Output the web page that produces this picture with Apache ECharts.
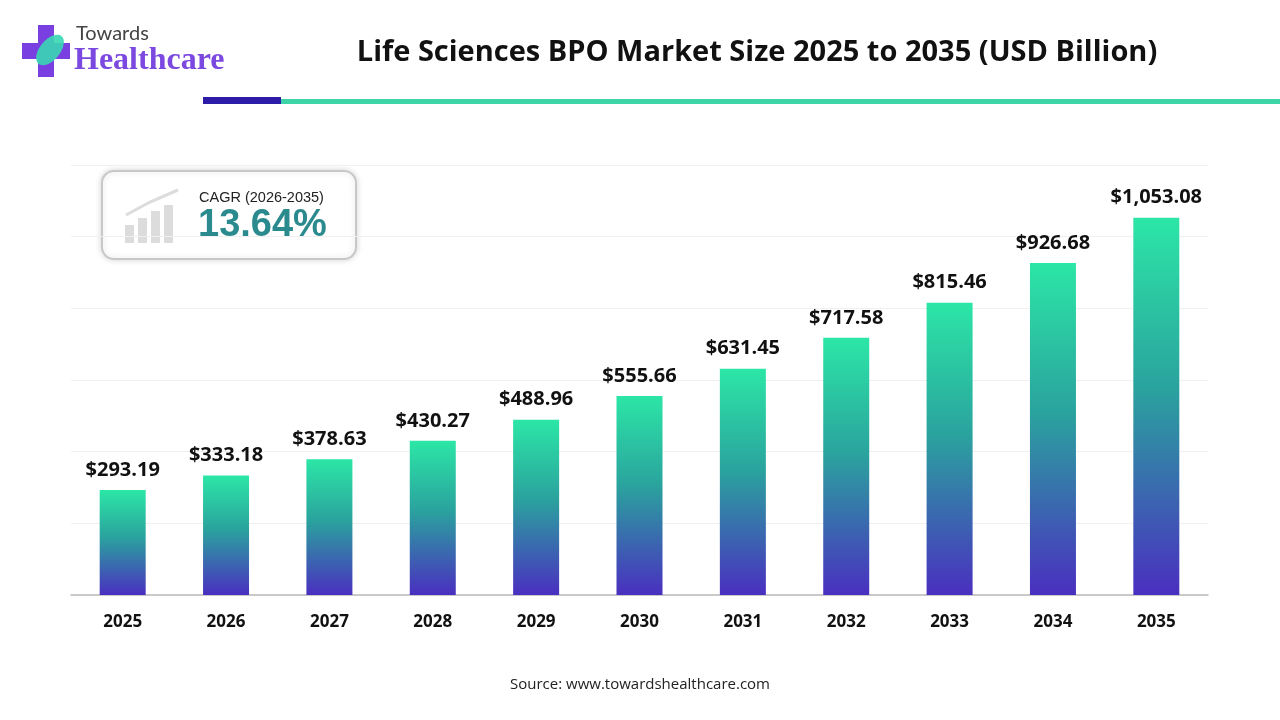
<!DOCTYPE html>
<html>
<head>
<meta charset="utf-8">
<script src="https://cdn.jsdelivr.net/npm/echarts@6/dist/echarts.min.js"></script>
<style>html,body{margin:0;padding:0;background:#fff}#main{width:1280px;height:720px}</style>
</head>
<body>
<div id="main"></div>
<script>
var years = ['2025','2026','2027','2028','2029','2030','2031','2032','2033','2034','2035'];
var values = [293.19,333.18,378.63,430.27,488.96,555.66,631.45,717.58,815.46,926.68,1053.08];

var chart = echarts.init(document.getElementById('main'));

function money(v) {
  return '$' + v.toLocaleString('en-US', {minimumFractionDigits: 2, maximumFractionDigits: 2});
}

var option = {
  backgroundColor: '#fff',
  animation: false,
  title: {
    text: 'Life Sciences BPO Market Size 2025 to 2035 (USD Billion)',
    left: 752, top: 33, textAlign: 'center',
    textStyle: {fontFamily: 'Open Sans', fontWeight: 'bold', fontSize: 29, color: '#111'}
  },
  grid: {left: 71, right: 72, top: 165, bottom: 125},
  xAxis: {
    type: 'category',
    data: years,
    axisTick: {show: false},
    axisLine: {lineStyle: {color: '#bbb', width: 1.5}},
    axisLabel: {color: '#111', fontWeight: 'bold', fontSize: 17, fontFamily: 'Open Sans', margin: 19}
  },
  yAxis: {
    type: 'value', min: 0, max: 1200, interval: 200,
    axisLabel: {show: false},
    splitLine: {lineStyle: {color: '#f0f0f0'}}
  },
  series: [{
    type: 'bar',
    data: values,
    barWidth: 46,
    itemStyle: {
      color: new echarts.graphic.LinearGradient(0, 0, 0, 1, [
        {offset: 0, color: '#2ce6a6'},
        {offset: 0.45, color: '#2aa39e'},
        {offset: 1, color: '#4a2fc0'}
      ])
    },
    label: {
      show: true, position: 'top', distance: 10,
      formatter: function (p) { return money(p.value); },
      color: '#111', fontWeight: 'bold', fontSize: 20, fontFamily: 'Open Sans'
    }
  }],
  graphic: [
    {type: 'rect', shape: {x: 203, y: 97, width: 78, height: 7}, style: {fill: '#2d1ca8'}},
    {type: 'rect', shape: {x: 281, y: 99, width: 999, height: 5}, style: {fill: '#3fd3a8'}},
    // logo
    {type: 'rect', shape: {x: 38, y: 25, width: 16, height: 52}, style: {fill: '#7a3fe0'}},
    {type: 'rect', shape: {x: 22, y: 43, width: 48, height: 16}, style: {fill: '#7a3fe0'}},
    {type: 'ellipse', shape: {cx: 50, cy: 50, rx: 10, ry: 18}, rotation: -0.7, originX: 50, originY: 50, style: {fill: '#38d6b4', opacity: 0.9}},
    {type: 'text', left: 76, top: 24, style: {text: 'Towards', fontSize: 20, fontFamily: 'Lato', fill: '#444'}},
    {type: 'text', left: 74, top: 45, style: {text: 'Healthcare', fontSize: 32, fontWeight: 'bold', fontFamily: 'Liberation Serif', fill: '#7b49e0'}},
    // CAGR box
    {type: 'rect', shape: {x: 102, y: 171, width: 254, height: 88, r: 12},
      style: {fill: '#fff', stroke: '#c8c8c8', lineWidth: 2, shadowBlur: 6, shadowColor: 'rgba(0,0,0,0.15)'}},
    {type: 'rect', shape: {x: 125, y: 225, width: 9, height: 18}, style: {fill: '#dcdcdc'}},
    {type: 'rect', shape: {x: 138, y: 218, width: 9, height: 25}, style: {fill: '#dcdcdc'}},
    {type: 'rect', shape: {x: 151, y: 211, width: 9, height: 32}, style: {fill: '#dcdcdc'}},
    {type: 'rect', shape: {x: 164, y: 205, width: 9, height: 38}, style: {fill: '#dcdcdc'}},
    {type: 'polyline', shape: {points: [[126, 215], [150, 202], [178, 190]]}, style: {stroke: '#dcdcdc', lineWidth: 3, fill: null}},
    {type: 'text', left: 199, top: 190, style: {text: 'CAGR (2026-2035)', fontSize: 14.5, fontFamily: 'Liberation Sans', fill: '#222'}},
    {type: 'text', left: 198, top: 207, style: {text: '13.64%', fontSize: 38, fontWeight: 'bold', fontFamily: 'Liberation Sans', fill: '#2a8a8e'}},
    {type: 'text', x: 640, y: 677, style: {text: 'Source: www.towardshealthcare.com', textAlign: 'center', fontSize: 15, fontFamily: 'Open Sans', fill: '#222'}}
  ]
};
chart.setOption(option);
</script>
</body>
</html>
